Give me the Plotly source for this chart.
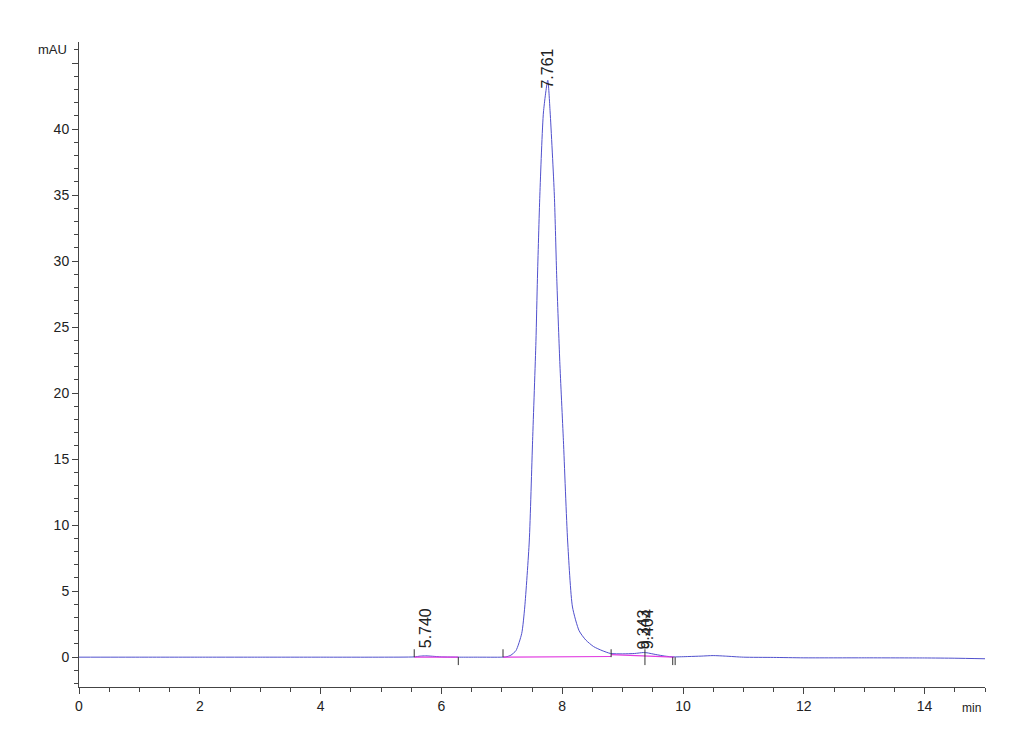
import plotly.graph_objects as go

# Chromatogram points (time in min, signal in mAU)
time_min = [0.0, 1.0, 2.0, 3.0, 4.0, 5.0, 5.55, 5.65, 5.74, 5.85, 6.0, 6.3, 6.6, 7.0,
            7.07, 7.15, 7.235, 7.33, 7.38, 7.455, 7.51, 7.565, 7.59, 7.63, 7.69, 7.761,
            7.80, 7.87, 7.91, 7.96, 8.02, 8.09, 8.17, 8.28, 8.39, 8.52, 8.66, 8.80,
            9.0, 9.2, 9.343, 9.404, 9.55, 9.7, 9.85, 10.1, 10.3, 10.5, 10.7, 11.0,
            11.5, 12.0, 13.0, 14.0, 14.5, 15.0]
signal_mau = [0.0, 0.0, 0.0, 0.0, 0.0, 0.0, 0.02, 0.08, 0.1, 0.07, 0.02, 0.0, 0.0, 0.0,
              0.02, 0.15, 0.5, 1.8, 3.8, 8.8, 16.4, 23.9, 28.7, 35.0, 41.3, 43.7,
              41.3, 35.0, 28.7, 22.4, 16.4, 8.8, 3.8, 2.0, 1.3, 0.8, 0.5, 0.28,
              0.25, 0.28, 0.35, 0.33, 0.2, 0.08, 0.02, 0.05, 0.08, 0.12, 0.08, 0.0,
              -0.02, -0.05, -0.05, -0.06, -0.08, -0.12]

# Integration baselines (start/end time and level)
base_x0 = [5.55, 7.02, 8.81]
base_x1 = [6.28, 8.81, 9.85]
base_y0 = [0.0, 0.0, 0.2]
base_y1 = [0.0, 0.05, 0.0]

# Peak labels
peak_rt = [5.740, 7.761, 9.343, 9.404]
peak_lbl = ["5.740", "7.761", "9.343", "9.404"]
peak_h = [0.5, 42.9, 0.45, 0.45]

# Integration event marks
mark_up = [5.55, 7.02, 8.81, 9.37]
mark_down = [6.28, 9.37, 9.83, 9.87]

# Axis ticks
y_tickvals = [0, 5, 10, 15, 20, 25, 30, 35, 40, 45]
y_ticktext = ["0", "5", "10", "15", "20", "25", "30", "35", "40", ""]

fig = go.Figure()

fig.add_trace(go.Scatter(x=time_min, y=signal_mau, mode="lines",
                         line=dict(color="rgb(80,80,205)", width=1, shape="spline", smoothing=0.6),
                         hoverinfo="skip", showlegend=False))

bx, by = [], []
for a, b, c, d in zip(base_x0, base_x1, base_y0, base_y1):
    bx += [a, b, None]
    by += [c, d, None]
fig.add_trace(go.Scatter(x=bx, y=by, mode="lines",
                         line=dict(color="rgb(225,60,225)", width=1.2),
                         hoverinfo="skip", showlegend=False))

mx, my = [], []
for t in mark_up:
    mx += [t, t, None]
    my += [0.0, 0.6, None]
for t in mark_down:
    mx += [t, t, None]
    my += [0.0, -0.6, None]
fig.add_trace(go.Scatter(x=mx, y=my, mode="lines",
                         line=dict(color="#333333", width=1),
                         hoverinfo="skip", showlegend=False))

for t, lbl, h in zip(peak_rt, peak_lbl, peak_h):
    fig.add_annotation(x=t, y=h, text=lbl, textangle=-90, showarrow=False,
                       xanchor="center", yanchor="bottom",
                       font=dict(family="Liberation Sans, Arial", size=16, color="#222222"))

fig.add_annotation(x=0, y=46.0, xref="paper", yref="y", text="mAU", showarrow=False,
                   xanchor="right", yanchor="middle", xshift=-10,
                   font=dict(family="Liberation Sans, Arial", size=13, color="#222222"))
fig.add_annotation(x=0.985, y=0, xref="paper", yref="paper", text="min", showarrow=False,
                   xanchor="center", yanchor="top", yshift=-12,
                   font=dict(family="Liberation Sans, Arial", size=12, color="#222222"))

axis_common = dict(showgrid=False, zeroline=False, showline=True, linecolor="#444444",
                   linewidth=1, ticks="outside", ticklen=6, tickcolor="#444444",
                   tickfont=dict(family="Liberation Sans, Arial", size=14, color="#222222"))

fig.update_xaxes(range=[0, 15], dtick=2, tick0=0,
                 minor=dict(dtick=0.5, ticks="outside", ticklen=4, tickcolor="#444444"),
                 **axis_common)
fig.update_yaxes(range=[-2.26, 46.6], tickmode="array", tickvals=y_tickvals, ticktext=y_ticktext,
                 minor=dict(dtick=1, tick0=0, ticks="outside", ticklen=4, tickcolor="#444444"),
                 **axis_common)

# page body has an 8px margin: size and margins chosen so the plot box lands at x 79-985, y 42-687
fig.update_layout(width=1014, height=739, plot_bgcolor="white", paper_bgcolor="white",
                  margin=dict(l=71, r=37, t=34, b=60), showlegend=False)

fig.write_html("out.html")
